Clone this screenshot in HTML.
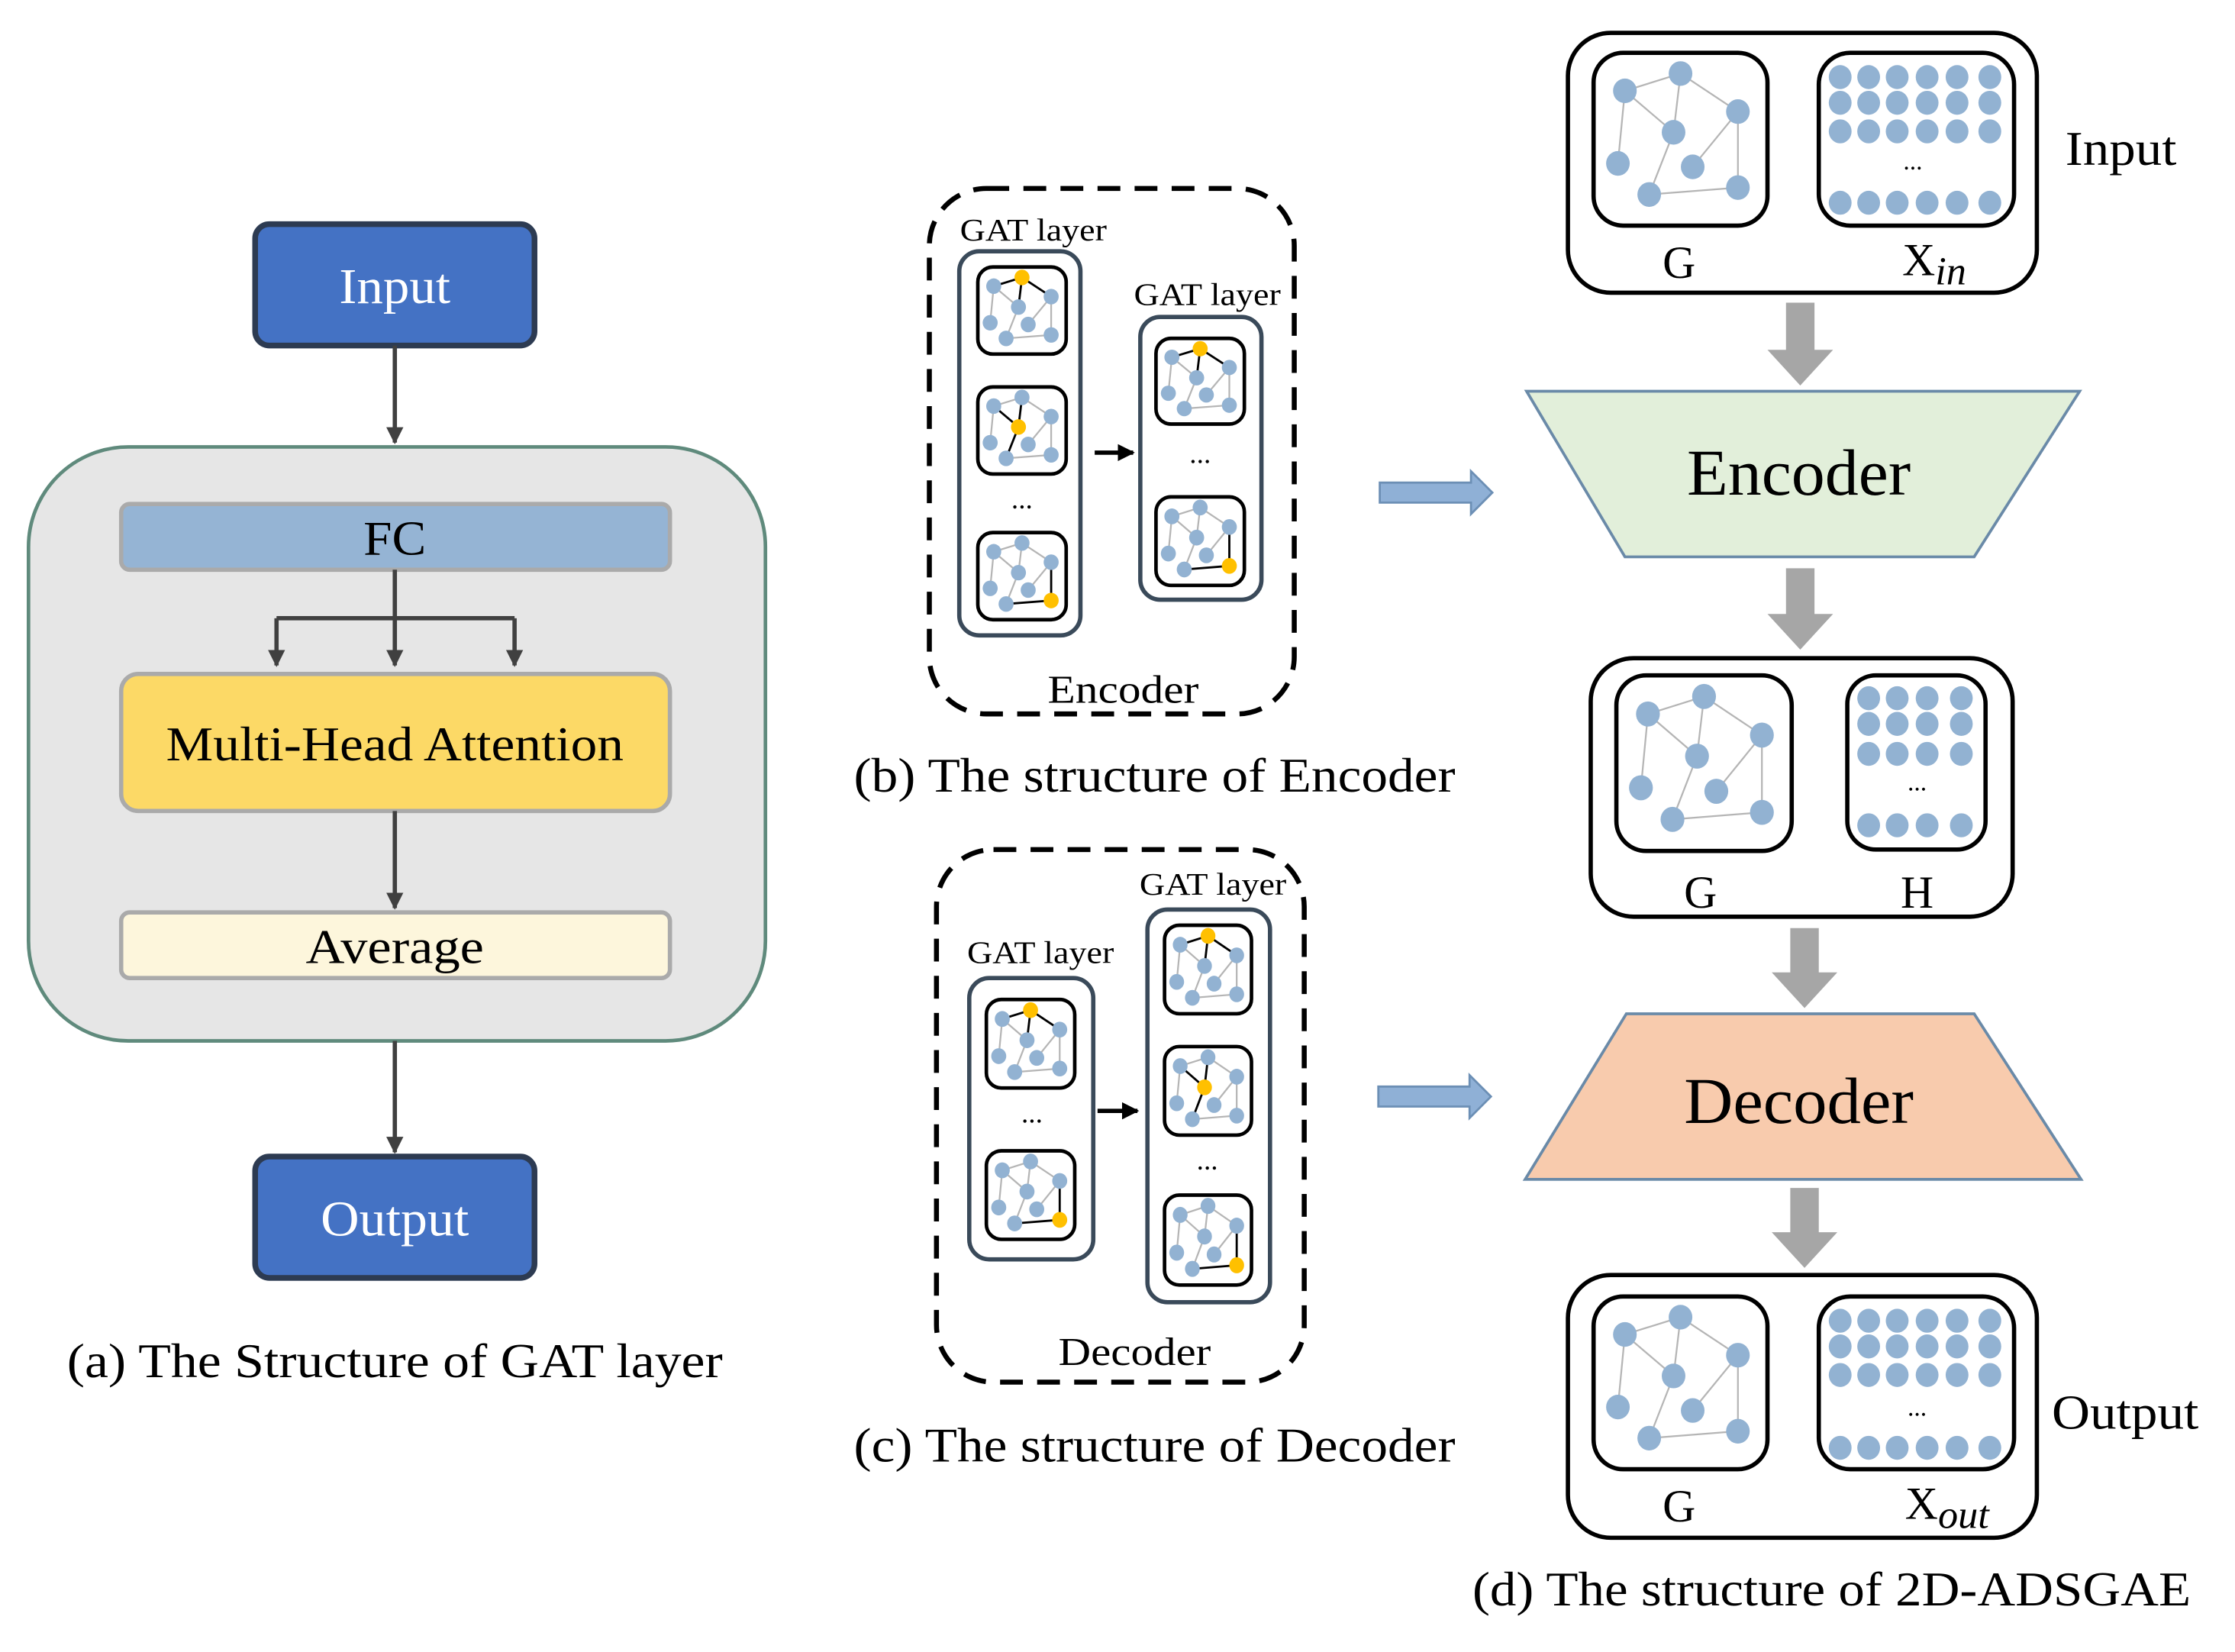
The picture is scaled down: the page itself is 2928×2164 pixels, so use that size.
<!DOCTYPE html>
<html><head><meta charset="utf-8"><style>
html,body{margin:0;padding:0;background:#fff;}
svg{display:block}
text{font-family:"Liberation Serif",serif;fill:#000;}
</style></head><body>
<svg id="s" width="2928" height="2164" viewBox="0 0 1568 1157" preserveAspectRatio="none" xmlns="http://www.w3.org/2000/svg">
<defs>
<marker id="ah" viewBox="0 0 10 10" refX="9" refY="5" markerWidth="4" markerHeight="4" orient="auto"><path d="M0,0 L10,5 L0,10 z" fill="#404040"/></marker>
<marker id="ahk" viewBox="0 0 10 10" refX="9" refY="5" markerWidth="4" markerHeight="5" orient="auto"><path d="M0,0 L10,5 L0,10 z" fill="#000"/></marker>
</defs>
<rect width="1568" height="1157" fill="#fff"/>

<!-- (a) -->
<rect x="179" y="157" width="196" height="85" rx="10" fill="#4472C4" stroke="#2d3b52" stroke-width="4"/>
<text x="277" y="201" font-size="35" text-anchor="middle" dominant-baseline="central" textLength="78" lengthAdjust="spacingAndGlyphs" style="fill:#fff">Input</text>
<line x1="277" y1="242" x2="277" y2="310" stroke="#404040" stroke-width="3" marker-end="url(#ah)"/>
<rect x="20" y="313" width="517" height="416" rx="70" fill="#e6e6e6" stroke="#5f8a7c" stroke-width="2.5"/>
<rect x="85" y="353" width="385" height="46" rx="6" fill="#95b4d4" stroke="#aaaaaa" stroke-width="3"/>
<text x="277" y="377" font-size="34" text-anchor="middle" dominant-baseline="central" textLength="44" lengthAdjust="spacingAndGlyphs">FC</text>
<path d="M277,399 V433 M194,433 H361" stroke="#404040" stroke-width="3" fill="none"/>
<line x1="194" y1="433" x2="194" y2="466" stroke="#404040" stroke-width="3" marker-end="url(#ah)"/>
<line x1="277" y1="433" x2="277" y2="466" stroke="#404040" stroke-width="3" marker-end="url(#ah)"/>
<line x1="361" y1="433" x2="361" y2="466" stroke="#404040" stroke-width="3" marker-end="url(#ah)"/>
<rect x="85" y="472" width="385" height="96" rx="12" fill="#fcd966" stroke="#aaaaaa" stroke-width="3"/>
<text x="277" y="521" font-size="34" text-anchor="middle" dominant-baseline="central" textLength="321" lengthAdjust="spacingAndGlyphs">Multi-Head Attention</text>
<line x1="277" y1="568" x2="277" y2="636" stroke="#404040" stroke-width="3" marker-end="url(#ah)"/>
<rect x="85" y="639" width="385" height="46" rx="6" fill="#fdf6dc" stroke="#aaaaaa" stroke-width="3"/>
<text x="277" y="663" font-size="34" text-anchor="middle" dominant-baseline="central" textLength="125" lengthAdjust="spacingAndGlyphs">Average</text>
<line x1="277" y1="729" x2="277" y2="807" stroke="#404040" stroke-width="3" marker-end="url(#ah)"/>
<rect x="179" y="810" width="196" height="85" rx="10" fill="#4472C4" stroke="#2d3b52" stroke-width="4"/>
<text x="277" y="854" font-size="35" text-anchor="middle" dominant-baseline="central" textLength="104" lengthAdjust="spacingAndGlyphs" style="fill:#fff">Output</text>
<text x="277" y="953" font-size="34" text-anchor="middle" dominant-baseline="central" textLength="460" lengthAdjust="spacingAndGlyphs">(a) The Structure of GAT layer</text>

<!-- (b) -->
<rect x="652" y="132" width="256" height="368" rx="40" fill="none" stroke="#000" stroke-width="3.5" stroke-dasharray="16,10"/>
<text x="725" y="161" font-size="22" text-anchor="middle" dominant-baseline="central" textLength="103" lengthAdjust="spacingAndGlyphs">GAT layer</text>
<rect x="673" y="176" width="85" height="269" rx="14" fill="#fff" stroke="#3a4a5a" stroke-width="3"/>
<text x="717" y="350" font-size="20" text-anchor="middle" dominant-baseline="central">...</text>
<line x1="768" y1="317" x2="795" y2="317" stroke="#000" stroke-width="3" marker-end="url(#ahk)"/>
<text x="847" y="206" font-size="22" text-anchor="middle" dominant-baseline="central" textLength="103" lengthAdjust="spacingAndGlyphs">GAT layer</text>
<rect x="800" y="222" width="85" height="198" rx="14" fill="#fff" stroke="#3a4a5a" stroke-width="3"/>
<text x="842" y="318" font-size="20" text-anchor="middle" dominant-baseline="central">...</text>
<text x="788" y="483" font-size="28" text-anchor="middle" dominant-baseline="central" textLength="106" lengthAdjust="spacingAndGlyphs">Encoder</text>
<text x="810" y="543" font-size="34" text-anchor="middle" dominant-baseline="central" textLength="422" lengthAdjust="spacingAndGlyphs">(b) The structure of Encoder</text>
<path d="M968,338 H1032 V330 L1047,345 L1032,360 V352 H968 Z" fill="#8fb0d6" stroke="#6c8fb5" stroke-width="1.5"/>

<!-- (c) -->
<rect x="657" y="595" width="258" height="373" rx="40" fill="none" stroke="#000" stroke-width="3.5" stroke-dasharray="16,10"/>
<text x="730" y="667" font-size="22" text-anchor="middle" dominant-baseline="central" textLength="103" lengthAdjust="spacingAndGlyphs">GAT layer</text>
<rect x="680" y="685" width="87" height="197" rx="14" fill="#fff" stroke="#3a4a5a" stroke-width="3"/>
<text x="724" y="780" font-size="20" text-anchor="middle" dominant-baseline="central">...</text>
<line x1="770" y1="778" x2="798" y2="778" stroke="#000" stroke-width="3" marker-end="url(#ahk)"/>
<text x="851" y="619" font-size="22" text-anchor="middle" dominant-baseline="central" textLength="103" lengthAdjust="spacingAndGlyphs">GAT layer</text>
<rect x="805" y="637" width="86" height="275" rx="14" fill="#fff" stroke="#3a4a5a" stroke-width="3"/>
<text x="847" y="813" font-size="20" text-anchor="middle" dominant-baseline="central">...</text>
<text x="796" y="947" font-size="28" text-anchor="middle" dominant-baseline="central" textLength="107" lengthAdjust="spacingAndGlyphs">Decoder</text>
<text x="810" y="1012" font-size="34" text-anchor="middle" dominant-baseline="central" textLength="422" lengthAdjust="spacingAndGlyphs">(c) The structure of Decoder</text>
<path d="M967,761 H1031 V753 L1046,768 L1031,783 V775 H967 Z" fill="#8fb0d6" stroke="#6c8fb5" stroke-width="1.5"/>

<!-- (d) -->
<rect x="1100" y="23" width="329" height="182" rx="30" fill="#fff" stroke="#000" stroke-width="3"/>
<text x="1178" y="184" font-size="32" text-anchor="middle" dominant-baseline="central">G</text>
<text x="1357" y="182" font-size="32" text-anchor="middle" dominant-baseline="central">X<tspan font-style="italic" font-size="28" dy="8">in</tspan></text>
<text x="1488" y="104" font-size="34" text-anchor="middle" dominant-baseline="central" textLength="78" lengthAdjust="spacingAndGlyphs">Input</text>
<path d="M1253,212 H1273 V245 H1286 L1263,270 L1240,245 H1253 Z" fill="#a6a6a6"/>
<path d="M1071,274 H1459 L1385,390 H1140 Z" fill="#e2efda" stroke="#6a8aa8" stroke-width="2"/>
<text x="1262" y="331" font-size="46" text-anchor="middle" dominant-baseline="central" textLength="157" lengthAdjust="spacingAndGlyphs">Encoder</text>
<path d="M1253,398 H1273 V430 H1286 L1263,455 L1240,430 H1253 Z" fill="#a6a6a6"/>
<rect x="1116" y="461" width="296" height="181" rx="30" fill="#fff" stroke="#000" stroke-width="3"/>
<text x="1193" y="625" font-size="32" text-anchor="middle" dominant-baseline="central">G</text>
<text x="1345" y="625" font-size="32" text-anchor="middle" dominant-baseline="central">H</text>
<path d="M1256,650 H1276 V681 H1289 L1266,706 L1243,681 H1256 Z" fill="#a6a6a6"/>
<path d="M1141,710 H1385 L1460,826 H1070 Z" fill="#f8cbad" stroke="#6a8aa8" stroke-width="2"/>
<text x="1262" y="771" font-size="46" text-anchor="middle" dominant-baseline="central" textLength="161" lengthAdjust="spacingAndGlyphs">Decoder</text>
<path d="M1256,832 H1276 V863 H1289 L1266,888 L1243,863 H1256 Z" fill="#a6a6a6"/>
<rect x="1100" y="893" width="329" height="184" rx="30" fill="#fff" stroke="#000" stroke-width="3"/>
<text x="1178" y="1055" font-size="32" text-anchor="middle" dominant-baseline="central">G</text>
<text x="1366" y="1053" font-size="32" text-anchor="middle" dominant-baseline="central">X<tspan font-style="italic" font-size="28" dy="8">out</tspan></text>
<text x="1491" y="989" font-size="34" text-anchor="middle" dominant-baseline="central" textLength="103" lengthAdjust="spacingAndGlyphs">Output</text>
<text x="1285" y="1113" font-size="34" text-anchor="middle" dominant-baseline="central" textLength="504" lengthAdjust="spacingAndGlyphs">(d) The structure of 2D-ADSGAE</text>
<g id="g"></g>
</svg>
<script>
var NS="http://www.w3.org/2000/svg",G=document.getElementById("g");
function el(t,a){var e=document.createElementNS(NS,t);for(var k in a)e.setAttribute(k,a[k]);G.appendChild(e);return e;}
var N=[[.18,.22],[.5,.12],[.83,.34],[.46,.46],[.14,.64],[.57,.66],[.32,.82],[.83,.78]];
var E=[[0,1],[0,3],[1,3],[1,2],[2,5],[2,7],[7,6],[3,6],[0,4]];
var HL={A:[1,[[1,0],[1,3],[1,2]]],B:[3,[[3,0],[3,1],[3,6]]],C:[7,[[7,2],[7,6]]]};
function graph(x,y,w,h,v,sw,r){
 el("rect",{x:x,y:y,width:w,height:h,rx:w*0.17,fill:"#fff",stroke:"#000","stroke-width":sw});
 var p=function(i){return [x+N[i][0]*w,y+N[i][1]*h];};
 var hl=v?HL[v]:null,blk={};
 if(hl)hl[1].forEach(function(e){blk[e[0]+"-"+e[1]]=1;blk[e[1]+"-"+e[0]]=1;});
 E.forEach(function(e){var a=p(e[0]),b=p(e[1]);var k=blk[e[0]+"-"+e[1]];
  el("line",{x1:a[0],y1:a[1],x2:b[0],y2:b[1],stroke:k?"#000":"#b5b5b5","stroke-width":k?1.5:1.2});});
 N.forEach(function(n,i){var a=p(i);el("ellipse",{cx:a[0],cy:a[1],rx:w*r,ry:h*r*1.05,fill:(hl&&hl[0]==i)?"#ffc000":"#92b2d2"});});
}
function dots(xs,rows,r){rows.forEach(function(y){xs.forEach(function(x){el("ellipse",{cx:x,cy:y,rx:r,ry:r*1.05,fill:"#92b2d2"});});});}
graph(1118,37,122,121,null,3,0.068);
graph(1134,473,123,123,null,3,0.068);
graph(1118,908,122,121,null,3,0.068);
el("rect",{x:1276,y:37,width:137,height:121,rx:22,fill:"#fff",stroke:"#000","stroke-width":3});
dots([1291,1311,1331,1352,1373,1396],[54,72,92,142],8);
el("rect",{x:1296,y:473,width:97,height:122,rx:20,fill:"#fff",stroke:"#000","stroke-width":3});
dots([1311,1331,1352,1376],[489,507,528,578],8);
el("rect",{x:1276,y:908,width:137,height:121,rx:22,fill:"#fff",stroke:"#000","stroke-width":3});
dots([1291,1311,1331,1352,1373,1396],[925,943,963,1014],8);
graph(686,187,62,61,"A",2.5,0.085);graph(686,271,62,61,"B",2.5,0.085);graph(686,373,62,61,"C",2.5,0.085);
graph(811,237,62,60,"A",2.5,0.085);graph(811,348,62,62,"C",2.5,0.085);
graph(692,700,62,62,"A",2.5,0.085);graph(692,806,62,62,"C",2.5,0.085);
graph(817,648,61,62,"A",2.5,0.085);graph(817,733,61,62,"B",2.5,0.085);graph(817,837,61,63,"C",2.5,0.085);
function t(x,y,s){var e=el("text",{x:x,y:y,"font-size":s,"text-anchor":"middle","dominant-baseline":"central"});e.textContent="...";}
t(1342,113,18);t(1345,548,18);t(1345,986,18);
</script>
</body></html>
